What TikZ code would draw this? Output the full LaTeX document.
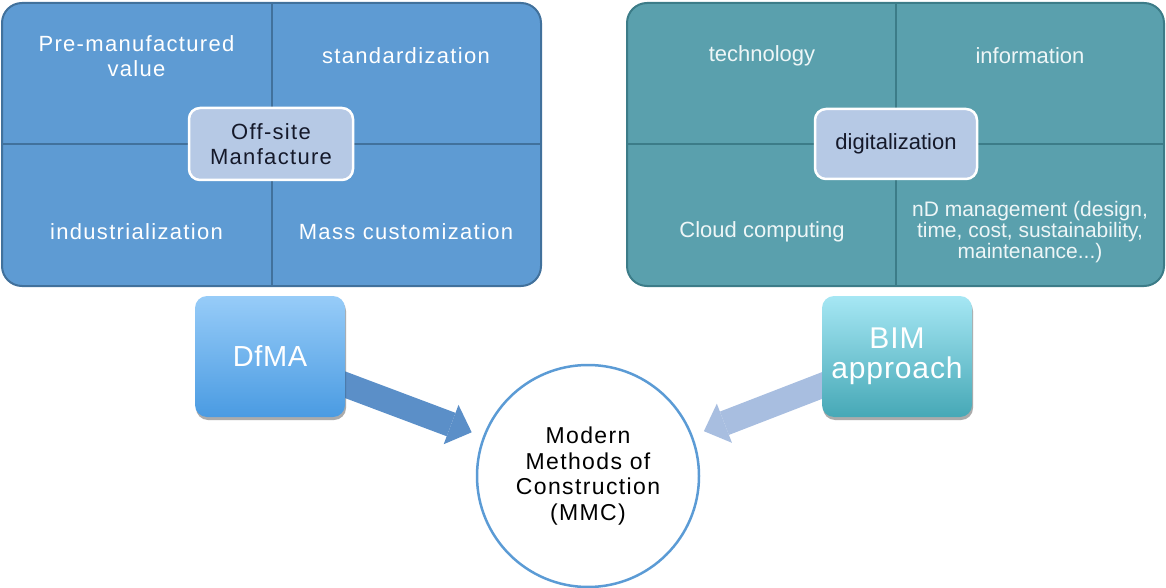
\documentclass[tikz,border=0pt]{standalone}
\usepackage{fontspec}
\setmainfont{Liberation Sans}
\newfontfamily\trackedfont[LetterSpace=6]{Liberation Sans}
\usetikzlibrary{arrows.meta,shadows}

\definecolor{dfmaFill}{HTML}{5E9BD3}
\definecolor{dfmaLine}{HTML}{41719C}
\definecolor{bimFill}{HTML}{5AA0AD}
\definecolor{bimLine}{HTML}{3C7C88}
\definecolor{hubFill}{HTML}{B6C9E5}
\definecolor{hubText}{HTML}{15192A}
\definecolor{dfmaTop}{HTML}{97CCF8}
\definecolor{dfmaBot}{HTML}{4A9BE2}
\definecolor{bimTop}{HTML}{A6E7F4}
\definecolor{bimBot}{HTML}{46A8B6}
\definecolor{arrowA}{HTML}{5B8FC8}
\definecolor{arrowB}{HTML}{A8BEE0}
\definecolor{ringLine}{HTML}{5B9BD5}
\definecolor{cellTextB}{HTML}{EEF6F7}

\begin{document}
\begin{tikzpicture}[x=1pt,y=-1pt,
  panel/.style={rounded corners=20pt, line width=2pt, inner sep=0pt, outer sep=0pt,
    minimum height=283pt},
  divider/.style={line width=2pt},
  hub/.style={rounded corners=11pt, draw=white, line width=2.5pt, fill=hubFill,
    text=hubText, inner sep=0pt, minimum height=72pt, minimum width=164pt, align=center},
  cellA/.style={text=white, align=center, font=\trackedfont\fontsize{22}{25}\selectfont},
  cellB/.style={text=cellTextB, align=center, font=\fontsize{22}{25}\selectfont},
  tile/.style={rounded corners=12pt, minimum width=150pt, minimum height=121pt,
    inner sep=0pt, text=white, align=center,
    drop shadow={opacity=0.18, fill=black, shadow xshift=1pt, shadow yshift=-3pt}},
  fatarrow/.style={line width=25pt, shorten >=12pt,
    -{Triangle[width=42pt,length=22pt,line width=0pt]}},
]
\useasboundingbox (0,0) rectangle (1166,588);

% --- DfMA panel -------------------------------------------------------
\node[panel, draw=dfmaLine, fill=dfmaFill, minimum width=539pt] (lpanel) at (271.5,144.5) {};
\draw[divider, dfmaLine] (lpanel.north) -- (lpanel.south);
\draw[divider, dfmaLine] (lpanel.west) -- (lpanel.east);
\node[cellA] (pmv) at (136.5,56) {Pre-manufactured\\value};
\node[cellA] (std) at (406,56) {standardization};
\node[cellA] (ind) at (136.5,232) {industrialization};
\node[cellA] (mass) at (406,232) {Mass customization};
\node[hub, font=\trackedfont\fontsize{22}{25}\selectfont] (osm) at (271,144) {Off-site\\Manfacture};

% --- BIM panel --------------------------------------------------------
\node[panel, draw=bimLine, fill=bimFill, minimum width=537pt] (rpanel) at (895.5,144.5) {};
\draw[divider, bimLine] (rpanel.north) -- (rpanel.south);
\draw[divider, bimLine] (rpanel.west) -- (rpanel.east);
\node[cellB] (tech) at (762,56) {technology};
\node[cellB] (info) at (1030,56) {information};
\node[cellB] (cloud) at (762,232) {Cloud computing};
\node[cellB, font=\fontsize{21}{21}\selectfont] (nd) at (1030,232)
  {nD management (design,\\time, cost, sustainability,\\maintenance...)};
\node[hub, minimum width=162pt, minimum height=70pt, font=\fontsize{22}{25}\selectfont]
  (dig) at (896,144) {digitalization};

% --- MMC and the two feeding approaches -------------------------------
\node[circle, draw=ringLine, line width=2.5pt, fill=white, minimum size=222pt,
  inner sep=0pt, align=center, text=black, font=\trackedfont\fontsize{23}{25.5}\selectfont]
  (mmc) at (588,476) {Modern\\Methods of\\Construction\\(MMC)};

\node[tile] (dfmaPos) at (270,356.5) {};
\node[tile] (bimPos) at (897,356.5) {};

\draw[fatarrow, arrowA] (dfmaPos.center) -- (mmc);
\draw[fatarrow, arrowB] (bimPos.center) -- (mmc);

\node[tile, top color=dfmaTop, bottom color=dfmaBot,
  font=\fontsize{29}{29}\selectfont\addfontfeatures{LetterSpace=2}] (dfma) at (270,356.5) {DfMA};
\node[tile, top color=bimTop, bottom color=bimBot,
  font=\fontsize{30}{30}\selectfont\addfontfeatures{LetterSpace=3}] (bim) at (897,356.5) {BIM\\approach};
\end{tikzpicture}
\end{document}
